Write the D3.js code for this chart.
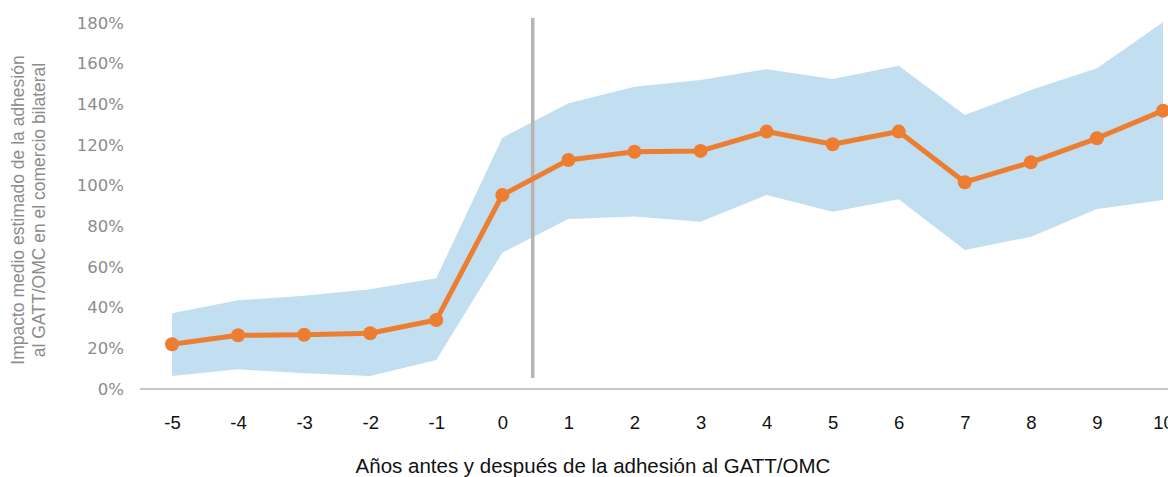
<!DOCTYPE html>
<html>
<head>
<meta charset="utf-8">
<script src="https://cdn.jsdelivr.net/npm/d3@7"></script>
<style>
  body { margin: 0; background: #fff; }
  svg { display: block; font-family: "Liberation Sans", Arial, sans-serif; }
</style>
</head>
<body>
<script>
// General constants
const WIDTH = 1168;
const HEIGHT = 477;

// Data (percent)
const years = [-5, -4, -3, -2, -1, 0, 1, 2, 3, 4, 5, 6, 7, 8, 9, 10];
const impact = [22, 26.4, 26.7, 27.4, 33.9, 95.4, 112.6, 116.7, 117.1, 126.6, 120.4, 126.6, 101.7, 111.5, 123.3, 136.9];
const upper = [37.2, 43.6, 45.9, 49, 54.5, 123.6, 140.5, 148.7, 152, 157.3, 152.5, 159, 134.8, 147, 157.7, 180.4];
const lower = [6.4, 9.7, 7.7, 6.4, 14.3, 67, 83.6, 84.8, 82.3, 95.4, 87.2, 93.3, 68.4, 74.9, 88.5, 93];
const yTicks = [0, 20, 40, 60, 80, 100, 120, 140, 160, 180];
const accessionMark = 0.46; // vertical line, between year 0 and year 1

const yTitle = ["Impacto medio estimado de la adhesión", "al GATT/OMC en el comercio bilateral"];
const xTitle = "Años antes y después de la adhesión al GATT/OMC";

const rows = years.map((yr, i) => ({ yr: yr, v: impact[i], hi: upper[i], lo: lower[i] }));

/**
 * Scales
 */
var x = d3.scaleLinear().domain([-5, 10]).range([172, 1163]);
var y = d3.scaleLinear().domain([0, 180]).range([389, 23]);

const svg = d3.select("body")
              .append("svg")
              .attr("width", WIDTH)
              .attr("height", HEIGHT);

/** Confidence band */
svg.append("path")
   .datum(rows)
   .attr("fill", "#c2def1")
   .attr("d", d3.area()
                .x(d => x(d.yr))
                .y0(d => y(d.lo))
                .y1(d => y(d.hi)));

/** Baseline axis */
svg.append("line")
   .attr("x1", 140).attr("x2", WIDTH)
   .attr("y1", y(0)).attr("y2", y(0))
   .attr("stroke", "#b5b5b5")
   .attr("stroke-width", 1.5);

/** Y tick labels */
var yAxis = svg.append("g")
   .attr("transform", "translate(124,0)")
   .call(d3.axisLeft(y).tickValues(yTicks).tickSize(0).tickPadding(0).tickFormat(d => d + "%"));
yAxis.select(".domain").remove();
yAxis.selectAll("text")
     .attr("fill", "#8c8c8c")
     .attr("font-size", "16.5px")
     .attr("font-family", "DejaVu Sans, sans-serif");

/** X tick labels (plain hyphen for negatives, like the source) */
var xAxis = svg.append("g")
   .attr("transform", `translate(0,${y(0)})`)
   .call(d3.axisBottom(x).tickValues(years).tickSize(0).tickPadding(27).tickFormat(d => String(d)));
xAxis.select(".domain").remove();
xAxis.selectAll("text")
     .attr("fill", "#111")
     .attr("font-size", "18.5px")
     .attr("font-family", "Liberation Sans, Arial, sans-serif");

/** Accession marker */
svg.append("line")
   .attr("x1", x(accessionMark)).attr("x2", x(accessionMark))
   .attr("y1", 18).attr("y2", 378)
   .attr("stroke", "#b8b4b1")
   .attr("stroke-width", 3.5);

/** Impact line and dots */
svg.append("path")
   .datum(rows)
   .attr("fill", "none")
   .attr("stroke", "#ed7d31")
   .attr("stroke-width", 5)
   .attr("stroke-linejoin", "round")
   .attr("d", d3.line().x(d => x(d.yr)).y(d => y(d.v)));

svg.selectAll("circle")
   .data(rows)
   .enter()
   .append("circle")
   .attr("cx", d => x(d.yr))
   .attr("cy", d => y(d.v))
   .attr("r", 7)
   .attr("fill", "#ed7d31");

/** Axis titles */
svg.append("text")
   .attr("transform", "translate(24,210) rotate(-90)")
   .attr("text-anchor", "middle")
   .attr("fill", "#8c8c8c")
   .attr("font-size", "17.5px")
   .selectAll("tspan")
   .data(yTitle)
   .enter()
   .append("tspan")
   .attr("x", 0)
   .attr("dy", (d, i) => i === 0 ? 0 : 21)
   .text(d => d);

svg.append("text")
   .attr("x", 593)
   .attr("y", 473)
   .attr("text-anchor", "middle")
   .attr("fill", "#111")
   .attr("font-size", "20.5px")
   .text(xTitle);
</script>
</body>
</html>
